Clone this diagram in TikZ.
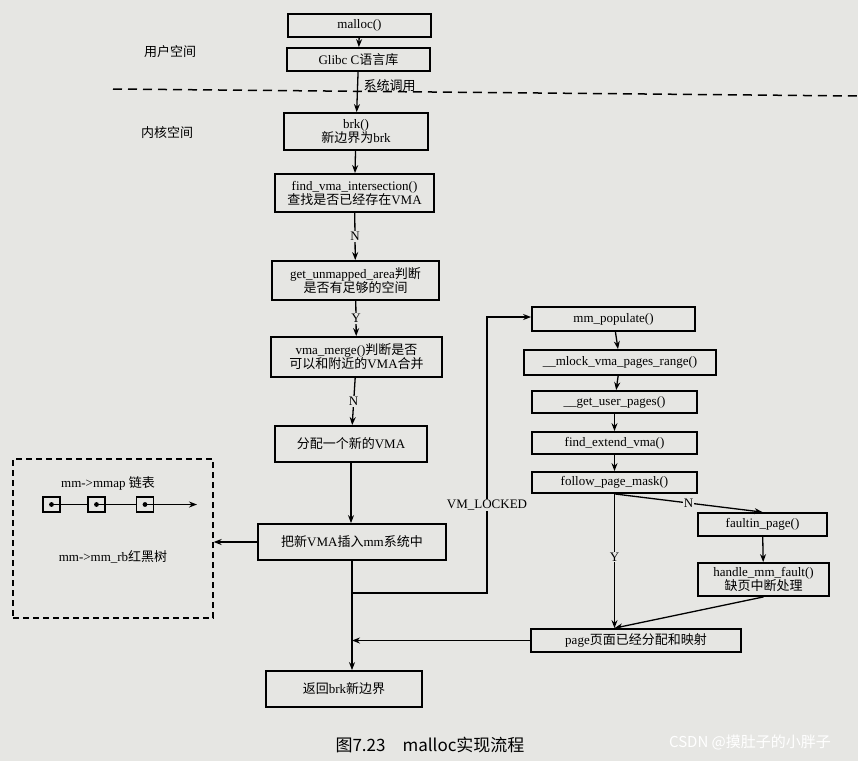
\documentclass[tikz,border=0pt]{standalone}
\usepackage{fontspec}
\setmainfont{Liberation Serif}
\newfontfamily\zh{Noto Sans CJK SC}
\usetikzlibrary{arrows.meta}
\begin{document}
\begin{tikzpicture}[x=1pt,y=-1pt,
  bx/.style={draw,line width=1.8pt,inner sep=0pt,align=center,font=\fontsize{13}{14}\selectfont},
  ln/.style={line width=1.3pt},
  ar/.style={ln,-{Stealth[length=8pt,width=6pt]}},
  lab/.style={font=\fontsize{13}{14}\selectfont,fill=bg,inner sep=1pt}]
\definecolor{bg}{HTML}{E6E6E3}
\fill[bg] (0,0) rectangle (858,761);
\useasboundingbox (0,0) rectangle (858,761);
\newcommand\bxat[6]{\node[bx,minimum width=#4-#2,minimum height=#5-#3] (#1) at ({(#2+#4)/2},{(#3+#5)/2}) {#6};}
\bxat{malloc}{288}{14}{431}{37}{malloc()}
\bxat{glibc}{287}{48}{430}{71}{Glibc C{\zh 语言库}}
\bxat{brk}{284}{113}{428}{150}{brk()\\{\zh 新边界为}brk}
\bxat{find}{275}{174}{434}{212}{find\_vma\_intersection()\\{\zh 查找是否已经存在}VMA}
\bxat{get}{272}{261}{439}{300}{get\_unmapped\_area{\zh 判断}\\{\zh 是否有足够的空间}}
\bxat{merge}{271}{337}{442}{377}{vma\_merge(){\zh 判断是否}\\{\zh 可以和附近的}VMA{\zh 合并}}
\bxat{alloc}{275}{426}{427}{462}{{\zh 分配一个新的}VMA}
\bxat{ins}{258}{524}{446}{560}{{\zh 把新}VMA{\zh 插入}mm{\zh 系统中}}
\bxat{ret}{266}{671}{422}{707}{{\zh 返回}brk{\zh 新边界}}
\bxat{pop}{532}{307}{695}{331}{mm\_populate()}
\bxat{mlock}{524}{350}{716}{375}{\_\_mlock\_vma\_pages\_range()}
\bxat{gup}{532}{391}{697}{413}{\_\_get\_user\_pages()}
\bxat{fev}{532}{432}{697}{454}{find\_extend\_vma()}
\bxat{fpm}{532}{472}{697}{493}{follow\_page\_mask()}
\bxat{fault}{698}{513}{827}{536}{faultin\_page()}
\bxat{hmf}{698}{563}{829}{596}{handle\_mm\_fault()\\{\zh 缺页中断处理}}
\bxat{page}{531}{629}{741}{652}{page{\zh 页面已经分配和映射}}
% labels
\node[font=\zh\fontsize{13}{14}\selectfont] (us) at (170,52) {用户空间};
\node[font=\zh\fontsize{13}{14}\selectfont] (ks) at (167,133) {内核空间};
\draw[line width=1.5pt,dash pattern=on 9pt off 6pt] (113,89) coordinate (d1) -- (858,96) coordinate (d2);
% main flow
\draw[ar] (malloc) -- (glibc);
\draw[ar] (glibc) -- node[pos=0.33,right=2pt,font=\zh\fontsize{13}{14}\selectfont]{系统调用} (brk);
\draw[ar] (brk) -- (find);
\draw[ar] (find) -- node[lab]{N} (get);
\draw[ar] (get) -- node[lab]{Y} (merge);
\draw[ar] (merge) -- node[lab]{N} (alloc);
\draw[ar] (alloc) -- (alloc|-ins.north);
\draw[ar] (ins.south) -- (ins.south|-ret.north);
% dashed box
\node[draw,line width=1.3pt,dash pattern=on 6pt off 4pt,minimum width=200pt,minimum height=159pt] (db) at (113,538.5) {};
\node[font=\fontsize{13}{14}\selectfont] (mmap) at (108,483) {mm->mmap {\zh 链表}};
\node[font=\fontsize{13}{14}\selectfont] (rb) at (113,557) {mm->mm\_rb{\zh 红黑树}};
\foreach \i/\x in {1/51.5,2/96.5,3/145} {
  \node[draw,line width=1.5pt,minimum width=17pt,minimum height=15pt] (l\i) at (\x,504.5) {};
  \fill (l\i.center) circle (2.4pt);
}
\draw[ln] (l1.center) -- (l2.west);
\draw[ln] (l2.center) -- (l3.west);
\draw[ar] (l3.center) -- (197,504.5) coordinate (lend);
\draw[ar,line width=1.8pt] (ins.west) -- (db.east|-ins.west);
% VM_LOCKED path
\draw[ar] (ins.south|-0,593) -- (487,593) -- node[lab,pos=0.32]{VM\_LOCKED} (487,317) -- (pop.west|-0,317);
\draw[ar] (pop) -- (mlock);
\draw[ar] (mlock) -- (gup);
\draw[ar] (gup) -- (fev);
\draw[ar] (fev) -- (fpm);
\draw[ar] (fpm.south) -- node[lab,pos=0.5]{N} (fault.north);
\draw[ar] (fpm.south) -- node[lab,pos=0.47]{Y} (fpm.south|-page.north);
\draw[ar] (fault) -- (hmf);
\draw[ar] (hmf.south) -- (fpm.south|-page.north);
\draw[ar] (page.west) -- (ins.south|-page.west);
% caption
\node[font=\zh\fontsize{17}{19}\selectfont] (cap) at (430,745) {图7.23\quad malloc实现流程};
\node[font=\zh\fontsize{15}{17}\selectfont,text=white] (wm) at (750,742) {CSDN @摸肚子的小胖子};
\end{tikzpicture}
\end{document}
